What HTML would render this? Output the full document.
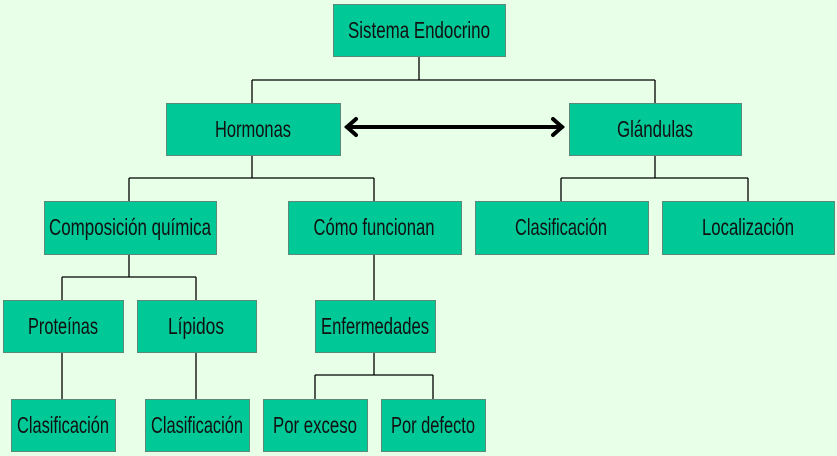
<!DOCTYPE html>
<html><head><meta charset="utf-8"><style>
html,body{margin:0;padding:0;background:#e8ffe8;}
svg{display:block}
text{font-family:"Liberation Sans",sans-serif;font-size:23px;fill:#111;}
</style></head><body>
<svg width="837" height="456" viewBox="0 0 837 456" xmlns="http://www.w3.org/2000/svg">
<rect width="837" height="456" fill="#e8ffe8"/>
<g stroke="#000" stroke-width="1.3" fill="none">
<path d="M419 56V80M252 80H655M252 80V103M655 80V103"/>
<path d="M252 155V178M129 178H374M129 178V201M374 178V201"/>
<path d="M655 155V178M561 178H748M561 178V201M748 178V201"/>
<path d="M129 254V277M62 277H196M62 277V300M196 277V300"/>
<path d="M62 352V399M196 352V399"/>
<path d="M374 254V300M374 352V375M315 375H433M315 375V399M433 375V399"/>
</g>
<g stroke="#000" stroke-width="4" fill="none" stroke-linecap="round">
<path d="M347 127H562"/>
<path d="M356 119L347 127L356 135M553 119L562 127L553 135"/>
</g>
<g fill="#00c896" stroke="#5a8a78" stroke-width="1">
<rect x="333.5" y="4.5" width="172" height="52"/>
<rect x="166.5" y="103.5" width="174" height="52"/>
<rect x="569.5" y="103.5" width="172" height="52"/>
<rect x="44.5" y="201.5" width="172" height="53"/>
<rect x="288.5" y="201.5" width="173" height="53"/>
<rect x="475.5" y="201.5" width="173" height="53"/>
<rect x="662.5" y="201.5" width="172" height="53"/>
<rect x="3.5" y="300.5" width="120" height="52"/>
<rect x="137.5" y="300.5" width="119" height="52"/>
<rect x="315.5" y="300.5" width="120" height="52"/>
<rect x="11.5" y="399.5" width="104" height="52"/>
<rect x="145.5" y="399.5" width="104" height="52"/>
<rect x="263.5" y="399.5" width="104" height="52"/>
<rect x="381.5" y="399.5" width="104" height="52"/>
</g>
<g text-anchor="middle">
<text x="419" y="38" textLength="142" lengthAdjust="spacingAndGlyphs">Sistema Endocrino</text>
<text x="253" y="137" textLength="76" lengthAdjust="spacingAndGlyphs">Hormonas</text>
<text x="655" y="137" textLength="76" lengthAdjust="spacingAndGlyphs">Glándulas</text>
<text x="130" y="235" textLength="162" lengthAdjust="spacingAndGlyphs">Composición química</text>
<text x="374" y="235" textLength="121" lengthAdjust="spacingAndGlyphs">Cómo funcionan</text>
<text x="561" y="235" textLength="92" lengthAdjust="spacingAndGlyphs">Clasificación</text>
<text x="748" y="235" textLength="92" lengthAdjust="spacingAndGlyphs">Localización</text>
<text x="63" y="334" textLength="70" lengthAdjust="spacingAndGlyphs">Proteínas</text>
<text x="196" y="334" textLength="56" lengthAdjust="spacingAndGlyphs">Lípidos</text>
<text x="375" y="334" textLength="108" lengthAdjust="spacingAndGlyphs">Enfermedades</text>
<text x="63" y="433" textLength="92" lengthAdjust="spacingAndGlyphs">Clasificación</text>
<text x="197" y="433" textLength="92" lengthAdjust="spacingAndGlyphs">Clasificación</text>
<text x="315" y="433" textLength="84" lengthAdjust="spacingAndGlyphs">Por exceso</text>
<text x="433" y="433" textLength="84" lengthAdjust="spacingAndGlyphs">Por defecto</text>
</g>
</svg>
</body></html>
